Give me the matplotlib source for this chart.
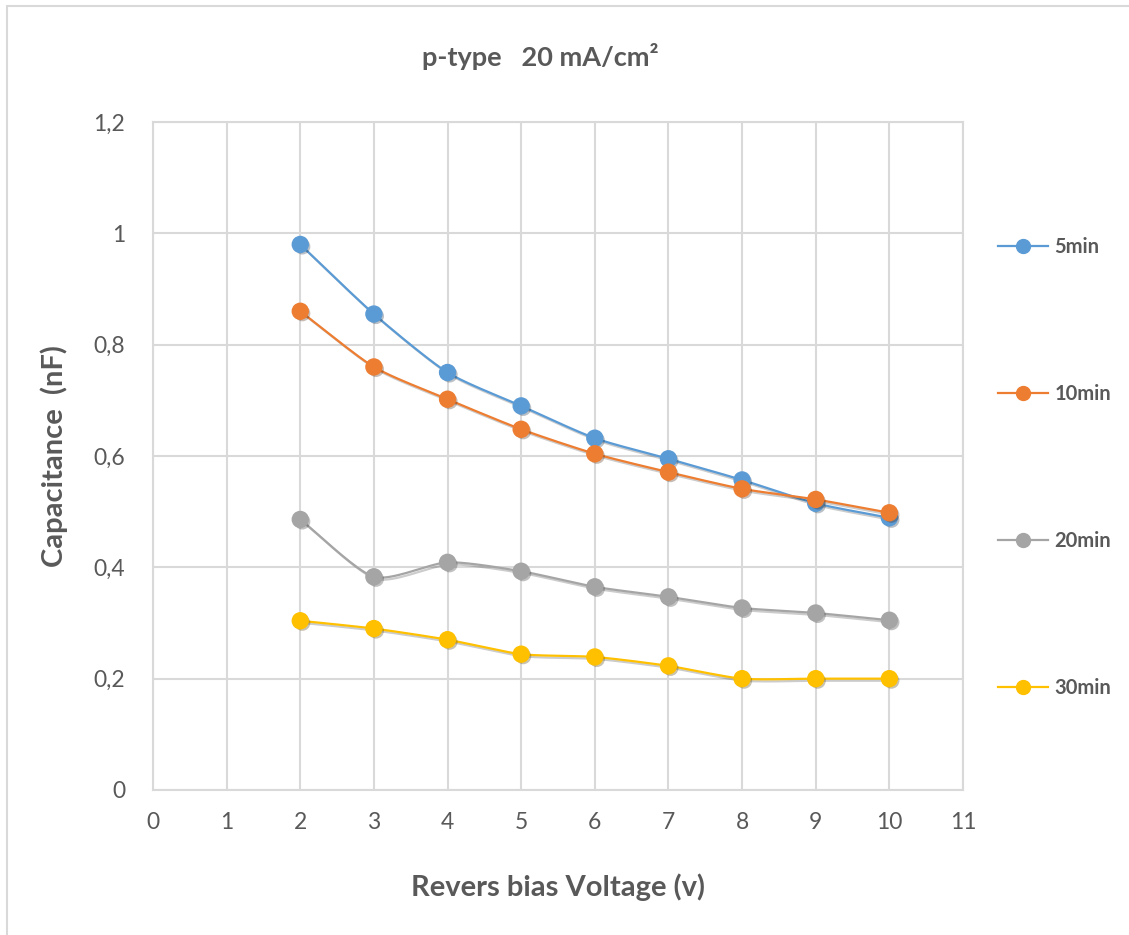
import numpy as np
import matplotlib
matplotlib.use("Agg")
import matplotlib.pyplot as plt
from matplotlib.patches import Rectangle
from matplotlib.lines import Line2D
import matplotlib.patheffects as pe

# ---- data ----
voltage = [2, 3, 4, 5, 6, 7, 8, 9, 10]
cap_5min = [0.98, 0.855, 0.75, 0.69, 0.632, 0.595, 0.557, 0.515, 0.489]
cap_10min = [0.86, 0.76, 0.702, 0.648, 0.604, 0.571, 0.541, 0.522, 0.498]
cap_20min = [0.486, 0.383, 0.409, 0.393, 0.365, 0.347, 0.327, 0.318, 0.305]
cap_30min = [0.304, 0.29, 0.27, 0.244, 0.239, 0.223, 0.2, 0.2, 0.2]
series_labels = ["5min", "10min", "20min", "30min"]
x_ticks = list(range(0, 12))
y_ticks = [0, 0.2, 0.4, 0.6, 0.8, 1.0, 1.2]
y_tick_labels = ["0", "0,2", "0,4", "0,6", "0,8", "1", "1,2"]
colors = ["#5B9BD5", "#ED7D31", "#A5A5A5", "#FFC000"]

plt.rcParams['font.family'] = ['Lato', 'DejaVu Sans']
TXT = "#595959"

W, H = 1129, 935
fig = plt.figure(figsize=(W / 100, H / 100), dpi=100)

# outer chart border (cropped on right/bottom)
fig.patches.append(Rectangle((7 / W, -0.05), 1.2, 1 - 6 / H + 0.05,
                             transform=fig.transFigure, fill=False,
                             edgecolor="#D9D9D9", linewidth=1.5))

ax = fig.add_axes([153 / W, (H - 790) / H, 810 / W, 668 / H])


def smooth(xs, ys, n=20):
    """Cardinal-spline smoothing between data points (display only)."""
    xs = np.asarray(xs, float)
    ys = np.asarray(ys, float)
    px = np.concatenate([[2 * xs[0] - xs[1]], xs, [2 * xs[-1] - xs[-2]]])
    py = np.concatenate([[2 * ys[0] - ys[1]], ys, [2 * ys[-1] - ys[-2]]])
    outx, outy = [], []
    t = np.linspace(0, 1, n, endpoint=False)
    for i in range(1, len(px) - 2):
        p0, p1, p2, p3 = (np.array([px[j], py[j]]) for j in range(i - 1, i + 3))
        m1 = (p2 - p0) * 0.5 * 0.7
        m2 = (p3 - p1) * 0.5 * 0.7
        h00 = 2 * t**3 - 3 * t**2 + 1
        h10 = t**3 - 2 * t**2 + t
        h01 = -2 * t**3 + 3 * t**2
        h11 = t**3 - t**2
        pts = (np.outer(h00, p1) + np.outer(h10, m1) +
               np.outer(h01, p2) + np.outer(h11, m2))
        outx.extend(pts[:, 0])
        outy.extend(pts[:, 1])
    outx.append(xs[-1])
    outy.append(ys[-1])
    return np.array(outx), np.array(outy)


shadow = [pe.SimpleLineShadow(offset=(1.5, -1.5), shadow_color="black", alpha=0.2), pe.Normal()]
all_series = [cap_5min, cap_10min, cap_20min, cap_30min]
for ys, c in zip(all_series, colors):
    sx, sy = smooth(voltage, ys)
    ax.plot(sx, sy, color=c, linewidth=1.6, zorder=3, path_effects=shadow)
    ax.plot(voltage, ys, linestyle="none", marker="o", markersize=11.5,
            markerfacecolor=c, markeredgecolor=c, zorder=4,
            path_effects=[pe.SimplePatchShadow(offset=(1.5, -1.5), alpha=0.3), pe.Normal()])

ax.set_xlim(0, 11)
ax.set_ylim(0, 1.2)
ax.set_xticks(x_ticks)
ax.set_yticks(y_ticks)
ax.set_yticklabels(y_tick_labels)
ax.grid(True, color="#D9D9D9", linewidth=1.5)
ax.set_axisbelow(True)
for s in ax.spines.values():
    s.set_color("#D9D9D9")
    s.set_linewidth(1.5)
ax.tick_params(length=0, labelsize=16.5, colors=TXT)
ax.tick_params(axis="y", pad=20)
ax.tick_params(axis="x", pad=16)

ax.set_xlabel("Revers bias Voltage (v)", fontsize=21, fontweight="bold",
              color=TXT, labelpad=29)
ax.set_ylabel("Capacitance  (nF)", fontsize=21, fontweight="bold",
              color=TXT, labelpad=18)
fig.text(540 / W, 1 - 57 / H, "p-type   20 mA/cm²", fontsize=19.5,
         fontweight="bold", color=TXT, ha="center", va="center")

# legend
handles = [Line2D([0], [0], color=c, linewidth=1.6, marker="o", markersize=10,
                  markerfacecolor=c, markeredgecolor=c) for c in colors]
leg = fig.legend(handles, series_labels, loc="upper left",
                 bbox_to_anchor=(980 / W, 1 - 219 / H), frameon=False,
                 labelspacing=6.3, handlelength=2.5, handletextpad=0.3,
                 prop={"weight": "bold", "size": 14.5})
for t in leg.get_texts():
    t.set_color(TXT)

fig.savefig("out.png", dpi=100)
